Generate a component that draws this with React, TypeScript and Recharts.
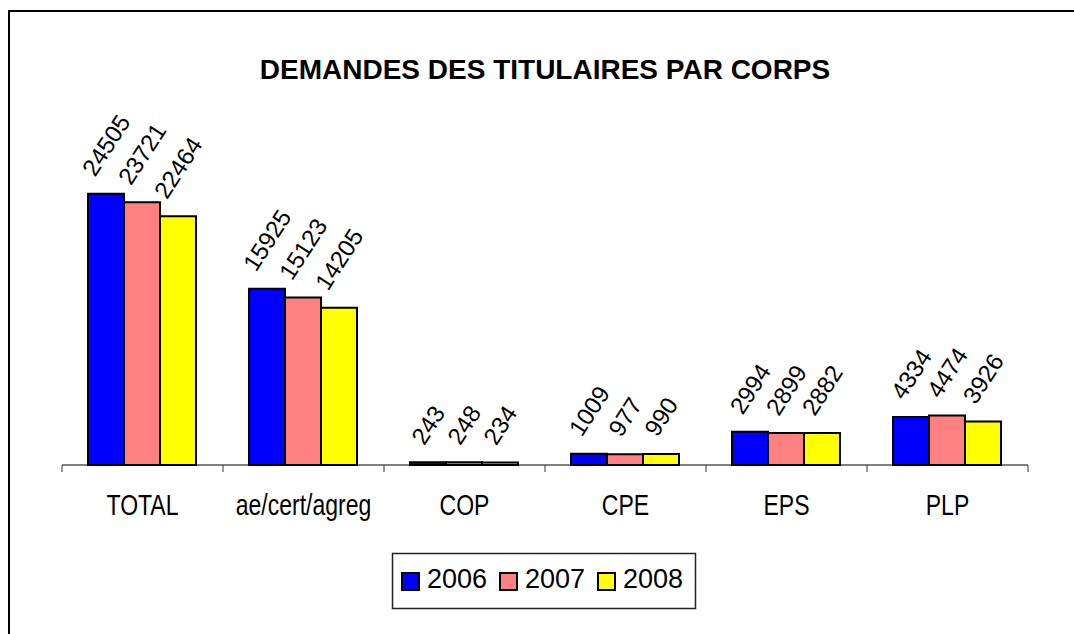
import React from 'react';
import { BarChart, Bar, XAxis, YAxis, LabelList } from 'recharts';

const categories = ['TOTAL', 'ae/cert/agreg', 'COP', 'CPE', 'EPS', 'PLP'];
const seriesNames = ['2006', '2007', '2008'];
const values2006 = [24505, 15925, 243, 1009, 2994, 4334];
const values2007 = [23721, 15123, 248, 977, 2899, 4474];
const values2008 = [22464, 14205, 234, 990, 2882, 3926];
const seriesColors = ['#0000FF', '#FF8080', '#FFFF00'];
const seriesKeys = ['s2006', 's2007', 's2008'];
const title = 'DEMANDES DES TITULAIRES PAR CORPS';

const data = categories.map((c, i) => ({
  name: c,
  s2006: values2006[i],
  s2007: values2007[i],
  s2008: values2008[i],
}));

const FONT = '"Liberation Sans", Arial, Helvetica, sans-serif';
const LABEL_FS = 24;
const ANG = 57;

const RotLabel = (props: any) => {
  const vb = props.viewBox || {};
  const x = props.x ?? vb.x;
  const y = props.y ?? vb.y;
  const width = props.width ?? vb.width;
  const s = String(props.value);
  const L = s.length * 0.556 * LABEL_FS;
  const h = 0.716 * LABEL_FS;
  const r = (ANG * Math.PI) / 180;
  const cx = x + width / 2;
  const px = cx - (L * Math.cos(r) - h * Math.sin(r)) / 2;
  const py = y - 16;
  return (
    <text
      x={px}
      y={py}
      transform={`rotate(-${ANG} ${px} ${py})`}
      fontSize={LABEL_FS}
      fontFamily={FONT}
      fill="#000"
      textAnchor="start"
    >
      {s}
    </text>
  );
};

const CatTick = (props: any) => {
  const { x, y, payload, index } = props;
  const band = props.width ? props.width / categories.length : 161;
  const last = index === categories.length - 1;
  return (
    <g>
      <line x1={x - band / 2} x2={x - band / 2} y1={y} y2={y + 7} stroke="#333" strokeWidth={1} />
      {last && <line x1={x + band / 2} x2={x + band / 2} y1={y} y2={y + 7} stroke="#333" strokeWidth={1} />}
      <text
        transform={`translate(${x} ${y + 50}) scale(1 1.3)`}
        x={0}
        y={0}
        textAnchor="middle"
        fontSize={23}
        fontFamily={FONT}
        fill="#000"
      >
        {payload.value}
      </text>
    </g>
  );
};

export default function App() {
  return (
    <div
      style={{
        position: 'fixed',
        left: 0,
        top: 0,
        width: 1074,
        height: 634,
        overflow: 'hidden',
        background: '#fff',
      }}
    >
      <div
        style={{
          position: 'absolute',
          left: 8,
          top: 10,
          width: 1100,
          height: 700,
          borderLeft: '2px solid #000',
          borderTop: '2px solid #000',
        }}
      />
      <div style={{ position: 'absolute', left: 0, top: 0 }}>
        <BarChart
          width={1074}
          height={634}
          data={data}
          margin={{ top: 155, right: 46, bottom: 109, left: 62 }}
          barGap={0}
          barCategoryGap={26}
        >
          <XAxis
            dataKey="name"
            interval={0}
            height={60}
            tickLine={false}
            tickSize={0}
            tickMargin={0}
            axisLine={{ stroke: '#000', strokeWidth: 1 }}
            tick={<CatTick />}
          />
          <YAxis hide domain={[0, 28000]} />
          {seriesKeys.map((k, i) => (
            <Bar
              key={k}
              dataKey={k}
              name={seriesNames[i]}
              fill={seriesColors[i]}
              stroke="#000"
              strokeWidth={2}
              isAnimationActive={false}
            >
              <LabelList dataKey={k} content={RotLabel} />
            </Bar>
          ))}
        </BarChart>
      </div>
      <svg
        width={1074}
        height={634}
        style={{ position: 'absolute', left: 0, top: 0, pointerEvents: 'none' }}
      >
        <text x={545} y={79} textAnchor="middle" fontSize={28} fontWeight="bold" fontFamily={FONT} fill="#000">
          {title}
        </text>
        <rect x={392.5} y={553.5} width={303} height={55} fill="#fff" stroke="#222" strokeWidth={1.5} />
        {seriesNames.map((n, i) => (
          <g key={n}>
            <rect x={402 + i * 98} y={573} width={17} height={17} fill={seriesColors[i]} stroke="#000" strokeWidth={2} />
            <text x={427 + i * 98} y={588} fontSize={27} fontFamily={FONT} fill="#000">
              {n}
            </text>
          </g>
        ))}
      </svg>
    </div>
  );
}
